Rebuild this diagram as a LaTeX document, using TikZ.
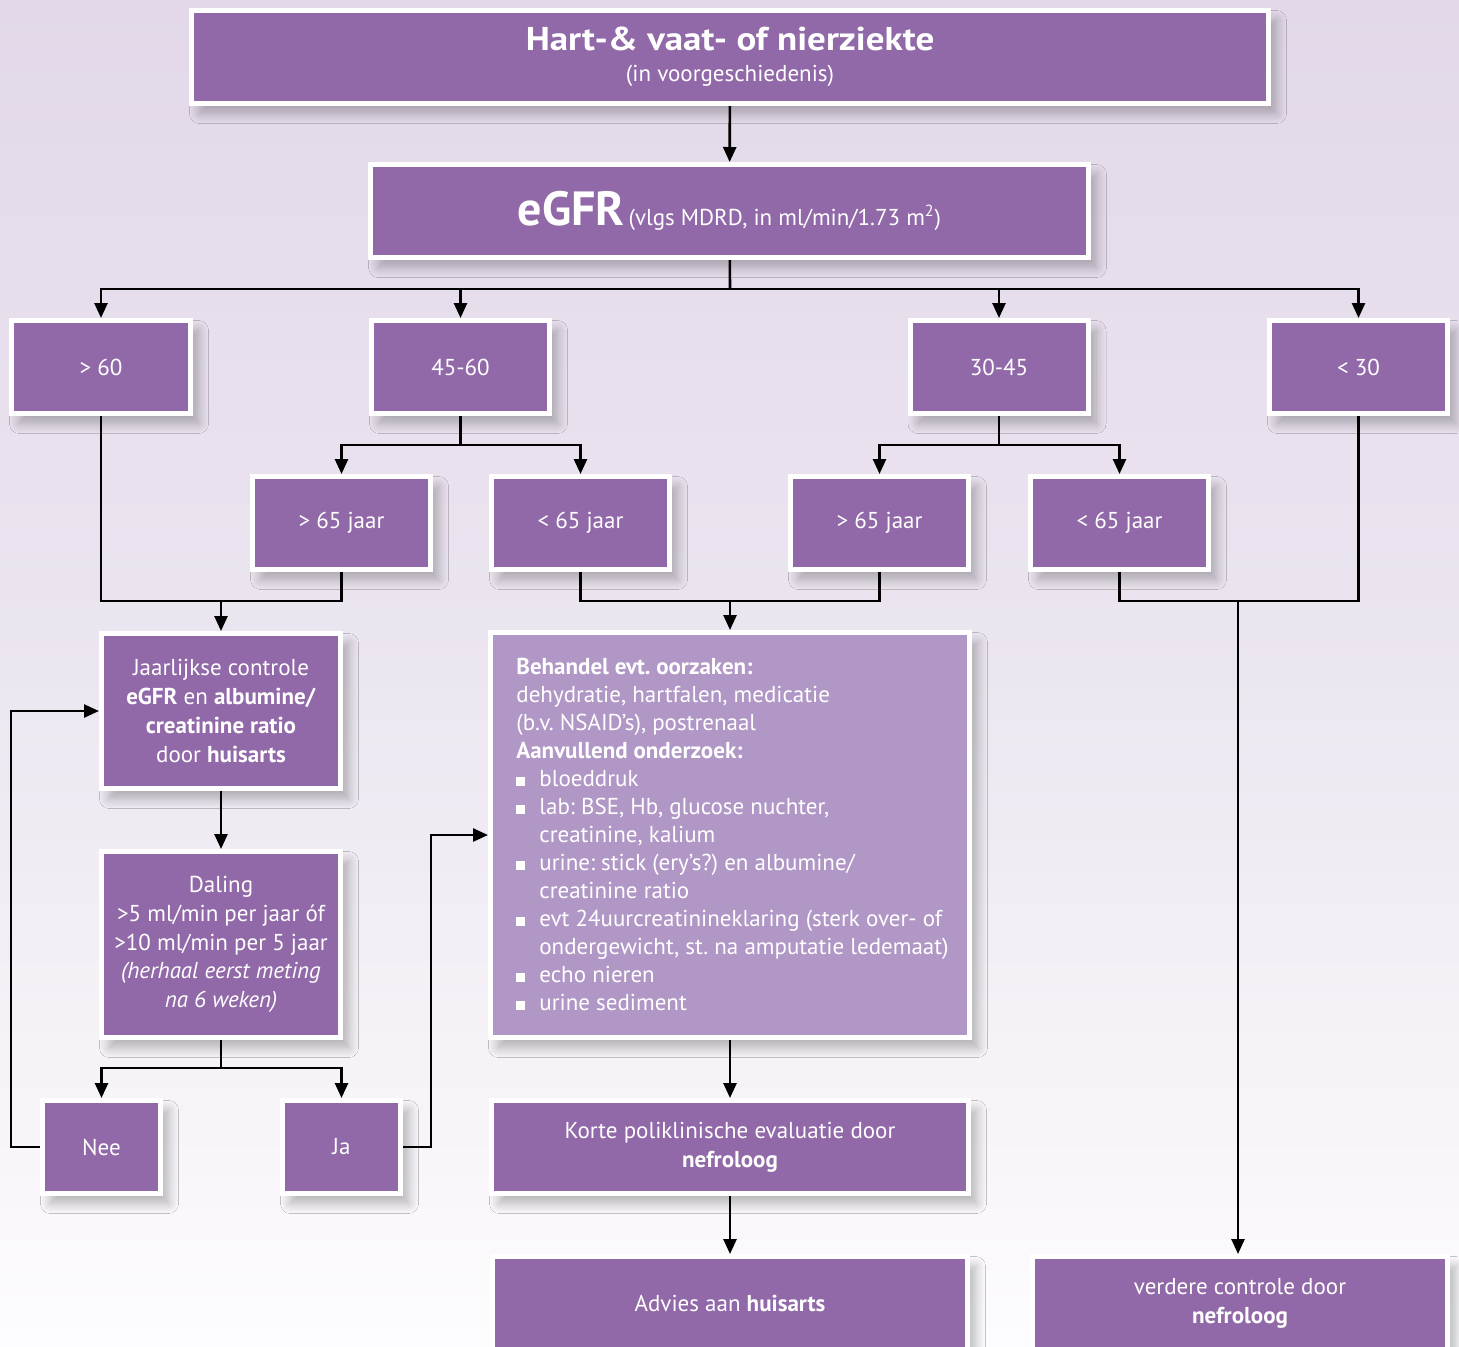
\documentclass[tikz,border=0pt]{standalone}
\usepackage{fontspec}
\setmainfont{PT Sans}
\usetikzlibrary{arrows.meta,shadows.blur}
\definecolor{bgtop}{RGB}{226,216,233}
\definecolor{bgmid}{RGB}{236,230,240}
\definecolor{bgbot}{RGB}{253,252,254}
\definecolor{boxpurple}{RGB}{145,105,168}
\definecolor{boxlight}{RGB}{176,151,198}
\newcommand{\bul}{\makebox[11.5pt][l]{\rule{4.5pt}{4.5pt}}}
\newcommand{\ind}{\hspace*{11.5pt}}
\begin{document}
\frenchspacing
\begin{tikzpicture}[x=0.5pt,y=-0.5pt,
  box/.style={draw=white, line width=2.5pt, fill=boxpurple, text=white,
    inner sep=0pt, align=center, font=\frenchspacing\fontsize{11.5}{14.4}\selectfont,
    blur shadow={shadow xshift=4pt, shadow yshift=-5pt, shadow blur radius=5pt, shadow blur steps=12, shadow opacity=28}},
  boxtext/.style={text=white, inner sep=0pt, align=left, font=\frenchspacing\fontsize{11.5}{14}\selectfont},
  ln/.style={line width=1.3pt, draw=black},
  arr/.style={ln, -{Triangle[length=7.5pt,width=6.5pt]}}
]
\useasboundingbox (0,0) rectangle (1459,1346);
\clip (0,0) rectangle (1459,1346);
\shade[top color=bgtop, bottom color=bgbot, middle color=bgmid] (0,0) rectangle (1459,1346);

% boxes
\node[box, minimum width=538.5pt, minimum height=46.5pt] (title) at (730,57)
  {\scalebox{1.12}[1]{\fontsize{16.5}{18}\selectfont\bfseries Hart-\& vaat- of nierziekte}\\[1pt]
   {\fontsize{11.5}{12}\selectfont (in voorgeschiedenis)}};
\node[box, minimum width=359pt, minimum height=46.5pt] (egfr) at (729.5,211)
  {{\fontsize{24}{26}\selectfont\bfseries eGFR}\,{\fontsize{11.5}{12}\selectfont (vlgs MDRD, in ml/min/1.73 m\textsuperscript{2})}};

\node[box, minimum width=89.5pt, minimum height=46.5pt] (g60) at (101,367) {> 60};
\node[box, minimum width=89pt, minimum height=46.5pt] (r4560) at (460.5,367) {45-60};
\node[box, minimum width=89pt, minimum height=46.5pt] (r3045) at (999,367) {30-45};
\node[box, minimum width=89pt, minimum height=46.5pt] (l30) at (1358.5,367) {< 30};

\node[box, minimum width=89pt, minimum height=46.5pt] (a1) at (341.5,523) {> 65 jaar};
\node[box, minimum width=89pt, minimum height=46.5pt] (b1) at (580.5,523) {< 65 jaar};
\node[box, minimum width=89pt, minimum height=46.5pt] (a2) at (879.5,523) {> 65 jaar};
\node[box, minimum width=89pt, minimum height=46.5pt] (b2) at (1119.5,523) {< 65 jaar};

\node[box, minimum width=119.5pt, minimum height=77.5pt] (jaar) at (221,711)
  {Jaarlijkse controle\\ \textbf{eGFR} en \textbf{albumine/}\\ \textbf{creatinine ratio}\\ door \textbf{huisarts}};

\node[box, fill=boxlight, minimum width=239.5pt, minimum height=202.5pt] (beh) at (730,835) {};
\node[boxtext, anchor=west] (behtext) at (516,834)
  {\textbf{Behandel evt. oorzaken:}\\
   dehydratie, hartfalen, medicatie\\
   (b.v. NSAID’s), postrenaal\\
   \textbf{Aanvullend onderzoek:}\\
   \bul bloeddruk\\
   \bul lab: BSE, Hb, glucose nuchter,\\
   \ind creatinine, kalium\\
   \bul urine: stick (ery’s?) en albumine/\\
   \ind creatinine ratio\\
   \bul evt 24uurcreatinineklaring (sterk over- of\\
   \ind ondergewicht, st. na amputatie ledemaat)\\
   \bul echo nieren\\
   \bul urine sediment};

\node[box, minimum width=119.5pt, minimum height=93pt] (dal) at (221,944.5)
  {Daling\\ >5 ml/min per jaar óf\\ >10 ml/min per 5 jaar\\ \textit{(herhaal eerst meting}\\ \textit{na 6 weken)}};

\node[box, minimum width=59pt, minimum height=46.5pt] (nee) at (101.5,1147) {Nee};
\node[box, minimum width=59pt, minimum height=46.5pt] (ja) at (341.5,1147) {Ja};

\node[box, minimum width=238.5pt, minimum height=46.5pt] (korte) at (730,1147)
  {Korte poliklinische evaluatie door\\ \textbf{nefroloog}};
\node[box, minimum width=237.5pt, minimum height=46.5pt] (adv) at (730,1303)
  {Advies aan \textbf{huisarts}};
\node[box, minimum width=207.5pt, minimum height=46.5pt] (verd) at (1240,1303)
  {verdere controle door\\ \textbf{nefroloog}};

% junction coordinates
\coordinate (bus) at (730,289);
\coordinate (s1) at (460.5,445);
\coordinate (s2) at (999,445);
\coordinate (m1) at (221,601);
\coordinate (m2) at (730,601);
\coordinate (m3) at (1238,601);
\coordinate (d1) at (221,1068);
\coordinate (nl) at (11,711);
\coordinate (jr) at (431,835);

% connectors
\draw[arr] (title) -- (egfr);
\draw[ln] (egfr) -- (bus);
\draw[arr] (bus) -| (g60);
\draw[arr] (bus) -| (r4560);
\draw[arr] (bus) -| (r3045);
\draw[arr] (bus) -| (l30);

\draw[ln] (r4560) -- (s1);
\draw[arr] (s1) -| (a1);
\draw[arr] (s1) -| (b1);
\draw[ln] (r3045) -- (s2);
\draw[arr] (s2) -| (a2);
\draw[arr] (s2) -| (b2);

\draw[ln] (g60.south) |- (m1);
\draw[ln] (a1.south) |- (m1);
\draw[arr] (m1) -- (jaar);
\draw[ln] (b1.south) |- (m2);
\draw[ln] (a2.south) |- (m2);
\draw[arr] (m2) -- (beh);
\draw[ln] (b2.south) |- (m3);
\draw[ln] (l30.south) |- (m3);
\draw[arr] (m3) -- (verd.north -| m3);

\draw[arr] (jaar) -- (dal);
\draw[ln] (dal) -- (d1);
\draw[arr] (d1) -| (nee);
\draw[arr] (d1) -| (ja);
\draw[arr] (nee.west) -| (nl) -- (jaar.west);
\draw[arr] (ja.east) -| (jr) -- (beh.west);
\draw[arr] (beh) -- (korte);
\draw[arr] (korte) -- (adv);
\end{tikzpicture}
\end{document}
